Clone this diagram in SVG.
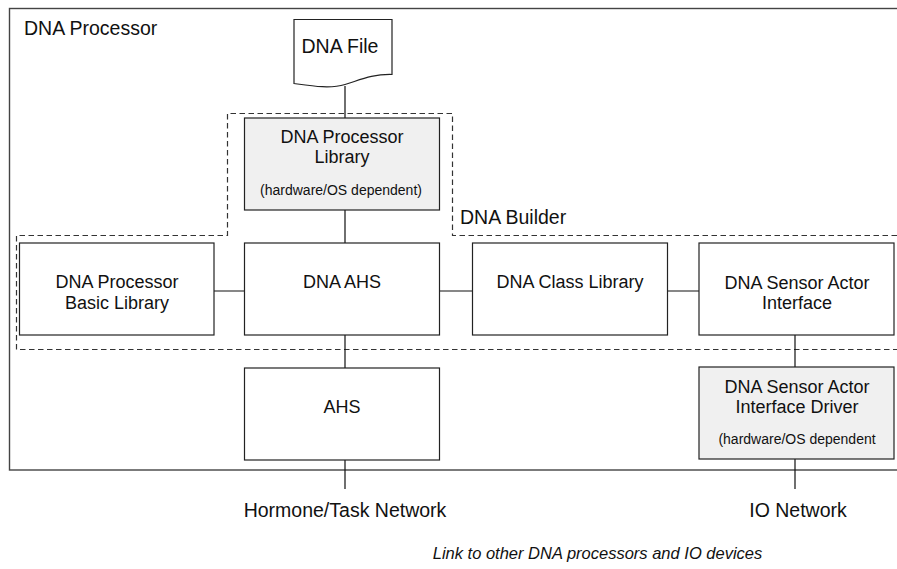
<svg xmlns="http://www.w3.org/2000/svg" width="897" height="569" viewBox="0 0 897 569">
<style>
text{font-family:"Liberation Sans",Arial,sans-serif;fill:#111}
.box{fill:#fff;stroke:#222;stroke-width:1.2}
.grey{fill:#f0f0f0;stroke:#222;stroke-width:1.2}
.lbl{font-size:18px;text-anchor:middle}
.sm{font-size:14px;text-anchor:middle}
.big{font-size:19.5px}
.ln{stroke:#111;stroke-width:1.2;fill:none}
.dash{stroke:#333;stroke-width:1.2;fill:none;stroke-dasharray:5.5 3.5}
</style>
<g id="dna-processor">
<rect x="9.5" y="8.5" width="900" height="461.5" fill="none" stroke="#444" stroke-width="1.4"/>
<text class="big" x="24" y="35">DNA Processor</text>
</g>
<g id="dna-builder">
<path class="dash" d="M897,235.5 H452.5 V113.5 H227.5 V235.5 H16.5 V349.5 H897"/>
<text class="big" x="460" y="224">DNA Builder</text>
</g>
<g id="connectors">
<path class="ln" d="M345,86 V118 M345,210 V243 M345,335 V368 M345,460 V489 M214,291 H245 M439,291 H473 M667,291 H699 M795,335 V367 M795,459 V489"/>
</g>
<g id="dna-file">
<path class="box" d="M294,19.5 H392 V74.5 C372,74 360,80 345,84.5 C330,89 312,86 294,83.5 Z"/>
<text class="big" x="340" y="52.5" text-anchor="middle">DNA File</text>
</g>
<g id="dna-processor-library">
<rect class="grey" x="244.5" y="118" width="195" height="92"/>
<text class="lbl" x="342" y="142.5">DNA Processor</text>
<text class="lbl" x="342" y="163">Library</text>
<text class="sm" x="341" y="195" font-size="15px">(hardware/OS dependent)</text>
</g>
<g id="dna-processor-basic-library">
<rect class="box" x="19.5" y="243" width="194.5" height="92"/>
<text class="lbl" x="117" y="288">DNA Processor</text>
<text class="lbl" x="117" y="309">Basic Library</text>
</g>
<g id="dna-ahs">
<rect class="box" x="244.5" y="243" width="195" height="92"/>
<text class="lbl" x="342" y="288">DNA AHS</text>
</g>
<g id="dna-class-library">
<rect class="box" x="472.5" y="243" width="195" height="92"/>
<text class="lbl" x="570" y="288">DNA Class Library</text>
</g>
<g id="dna-sensor-actor-interface">
<rect class="box" x="699" y="243" width="195" height="92"/>
<text class="lbl" x="797" y="289">DNA Sensor Actor</text>
<text class="lbl" x="797" y="309">Interface</text>
</g>
<g id="ahs">
<rect class="box" x="244.5" y="368" width="195" height="92"/>
<text class="lbl" x="342" y="413">AHS</text>
</g>
<g id="dna-sensor-actor-interface-driver">
<rect class="grey" x="699" y="367" width="195" height="92"/>
<text class="lbl" x="797" y="392.5">DNA Sensor Actor</text>
<text class="lbl" x="797" y="412.5">Interface Driver</text>
<text class="sm" x="797" y="444" font-size="13.2px">(hardware/OS dependent</text>
</g>
<g id="hormone-task-network">
<text class="big" x="345" y="517" text-anchor="middle">Hormone/Task Network</text>
</g>
<g id="io-network">
<text class="big" x="798" y="517" text-anchor="middle">IO Network</text>
</g>
<g id="caption">
<text x="597.5" y="559" font-size="16.5px" font-style="italic" text-anchor="middle">Link to other DNA processors and IO devices</text>
</g>
</svg>
